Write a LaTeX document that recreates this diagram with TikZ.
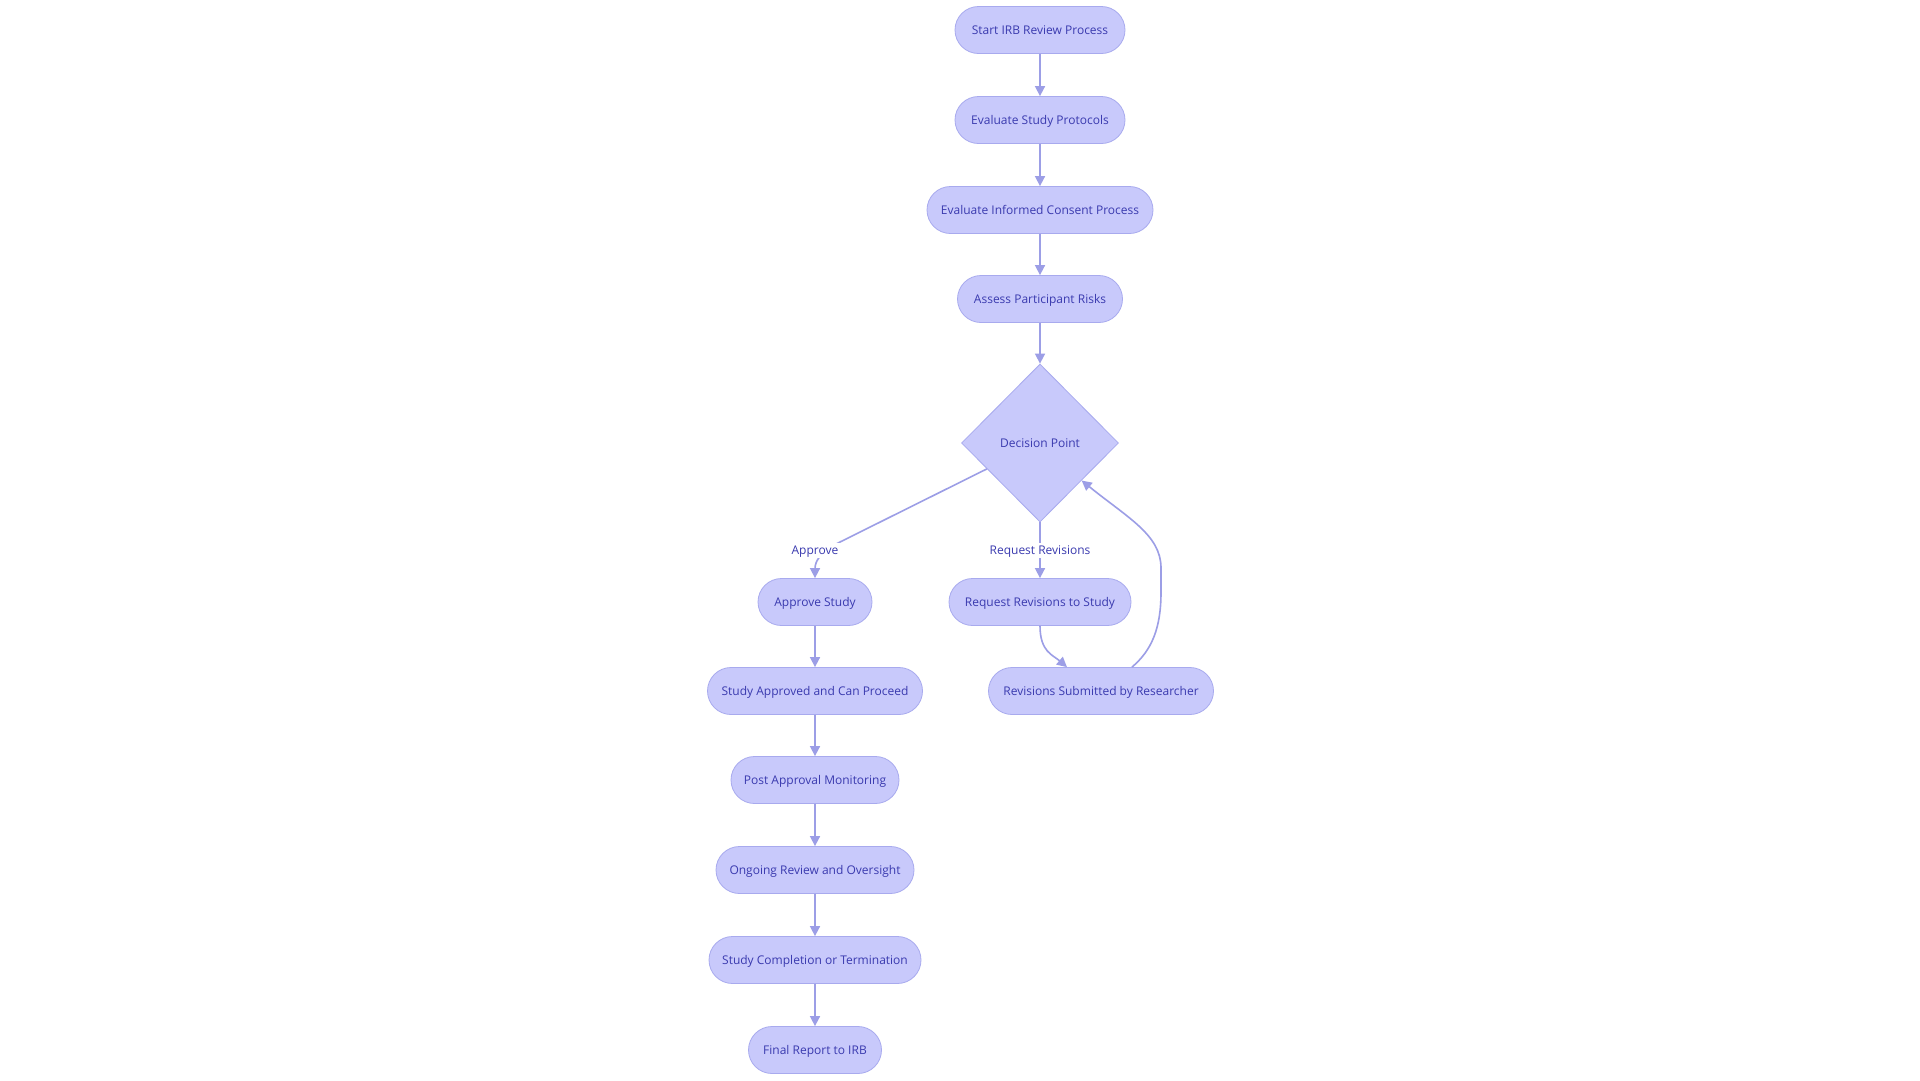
\documentclass[tikz,border=0pt]{standalone}
\usepackage{fontspec}
\setmainfont{Open Sans}
\usetikzlibrary{shapes.geometric,arrows.meta,calc}
\definecolor{nfill}{RGB}{200,201,251}
\definecolor{nstroke}{RGB}{168,170,238}
\definecolor{eline}{RGB}{156,158,230}
\definecolor{ntext}{RGB}{58,58,175}
\tikzset{
  stadium/.style={draw=nstroke, line width=0.8pt, fill=nfill, rectangle, rounded corners=23.5pt,
    minimum height=47pt, text=ntext, font=\fontsize{12}{14}\selectfont, inner sep=0pt,
    text height=10.5pt, text depth=1pt},
  decision/.style={draw=nstroke, line width=0.8pt, fill=nfill, diamond, minimum width=157pt,
    minimum height=158pt, inner sep=0pt, text=ntext, font=\fontsize{12}{14}\selectfont,
    text height=10.5pt, text depth=1pt},
  conn/.style={draw=eline, line width=1.6pt, -{Triangle[length=10pt,width=10pt]}},
  elabel/.style={fill=white, text=ntext, font=\fontsize{12}{14}\selectfont, inner sep=1.5pt,
    text height=10pt, text depth=2pt}
}
\begin{document}
\begin{tikzpicture}[x=1pt,y=-1pt]
\useasboundingbox[fill=white] (0,0) rectangle (1920,1080);
\node[stadium, minimum width=170pt] (start) at (1040,30) {Start IRB Review Process};
\node[stadium, minimum width=170pt] (prot) at (1040,120) {Evaluate Study Protocols};
\node[stadium, minimum width=226pt] (cons) at (1040,210) {Evaluate Informed Consent Process};
\node[stadium, minimum width=165pt] (risk) at (1040,299) {Assess Participant Risks};
\node[decision] (dec) at (1040,443) {Decision Point};
\node[stadium, minimum width=114pt] (app) at (815,602) {Approve Study};
\node[stadium, minimum width=182pt] (req) at (1040,602) {Request Revisions to Study};
\node[stadium, minimum width=215pt] (sap) at (815,691) {Study Approved and Can Proceed};
\node[stadium, minimum width=225pt] (rsub) at (1101,691) {Revisions Submitted by Researcher};
\node[stadium, minimum width=168pt] (post) at (815,780) {Post Approval Monitoring};
\node[stadium, minimum width=198pt] (ong) at (815,870) {Ongoing Review and Oversight};
\node[stadium, minimum width=212pt] (comp) at (815,960) {Study Completion or Termination};
\node[stadium, minimum width=133pt] (fin) at (815,1050) {Final Report to IRB};

\draw[conn] (start) -- (prot);
\draw[conn] (prot) -- (cons);
\draw[conn] (cons) -- (risk);
\draw[conn] (risk) -- (dec);
\draw[conn] (dec.206) -- (840,542) .. controls (822,551) and (815,560) .. (app.north);
\node[elabel] (lapp) at (815,550) {Approve};
\draw[conn] (dec.south) -- (req.north) node[elabel, pos=0.5] (lreq) {Request Revisions};
\draw[conn] (req.south) .. controls +(0,26) and +(-14,-12) .. ([xshift=-34pt]rsub.north);
\draw[conn] ([xshift=31pt]rsub.north) .. controls (1152,650) and (1161,628) .. (1161,592)
   -- (1161,568) .. controls (1161,535) and (1128,518) .. (dec.-42);
\draw[conn] (app) -- (sap);
\draw[conn] (sap) -- (post);
\draw[conn] (post) -- (ong);
\draw[conn] (ong) -- (comp);
\draw[conn] (comp) -- (fin);
\end{tikzpicture}
\end{document}
